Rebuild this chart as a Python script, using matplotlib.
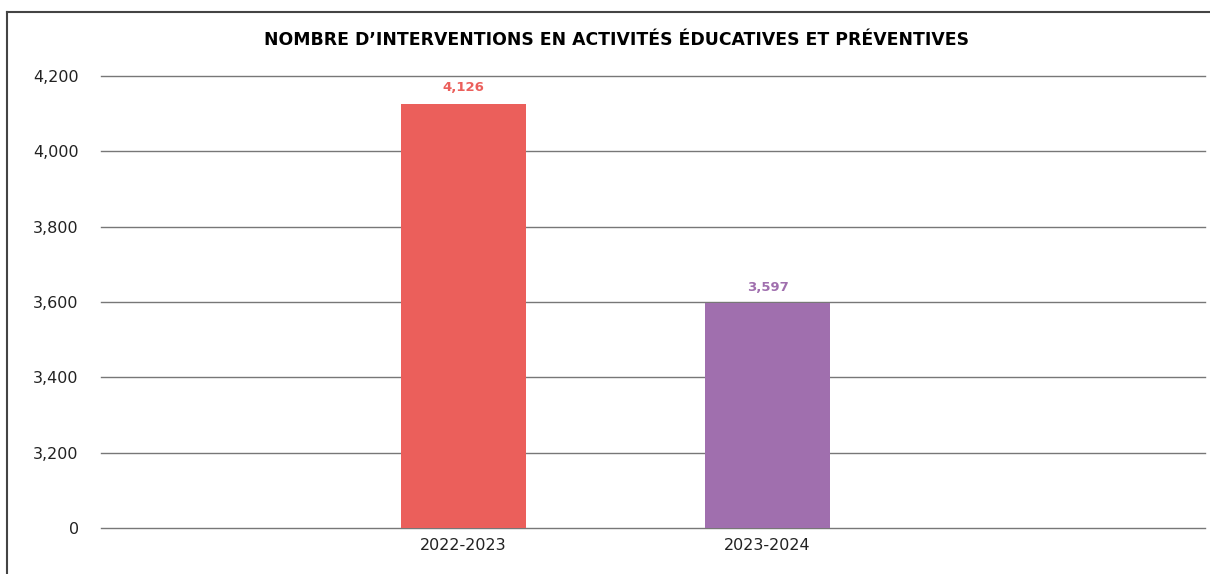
import numpy as np
import matplotlib.pyplot as plt
from matplotlib.lines import Line2D

categories = ["2022-2023", "2023-2024"]
values = [4126, 3597]
colors = ["#EB5F5B", "#A06FAE"]
# the source chart starts its axis at 3,000 but labels that line "0"
base = 3000
yticks = [3000, 3200, 3400, 3600, 3800, 4000, 4200]
ytick_labels = ["0", "3,200", "3,400", "3,600", "3,800", "4,000", "4,200"]

W, H = 1210, 574
fig = plt.figure(figsize=(W / 100, H / 100), dpi=100)
ax = fig.add_axes([101 / W, (H - 528) / H, (1205 - 101) / W, (528 - 76) / H])

x = np.arange(len(categories))
heights = [v - base for v in values]
ax.bar(x, heights, bottom=base, width=0.411, color=colors, zorder=3)

for xi, v, c in zip(x, values, colors):
    ax.text(xi, v + 25, f"{v:,}", ha="center", va="bottom",
            fontsize=9.5, fontweight="bold", color=c)

ax.set_ylim(3000, 4200)
ax.set_xlim(-1.192, 2.439)
ax.set_yticks(yticks)
ax.set_yticklabels(ytick_labels)
ax.set_xticks(x)
ax.set_xticklabels(categories)
ax.tick_params(axis="both", length=0, labelsize=11.5, colors="#222222")
ax.tick_params(axis="y", pad=16)
ax.tick_params(axis="x", pad=7)
for t in yticks:
    ax.axhline(t, color="#777777", linewidth=1.0, zorder=0, clip_on=False)
for s in ax.spines.values():
    s.set_visible(False)

fig.text(617 / W, 1 - 40 / H, "NOMBRE D\u2019INTERVENTIONS EN ACTIVITÉS ÉDUCATIVES ET PRÉVENTIVES",
         ha="center", va="center", fontsize=12.4, fontweight="bold", color="black")

# outer frame (top and left edges only visible)
fig.add_artist(Line2D([7 / W, 1.0], [1 - 12 / H, 1 - 12 / H], color="#444444", linewidth=1.5))
fig.add_artist(Line2D([7 / W, 7 / W], [0, 1 - 12 / H], color="#444444", linewidth=1.5))

plt.savefig("out.png", dpi=100)
